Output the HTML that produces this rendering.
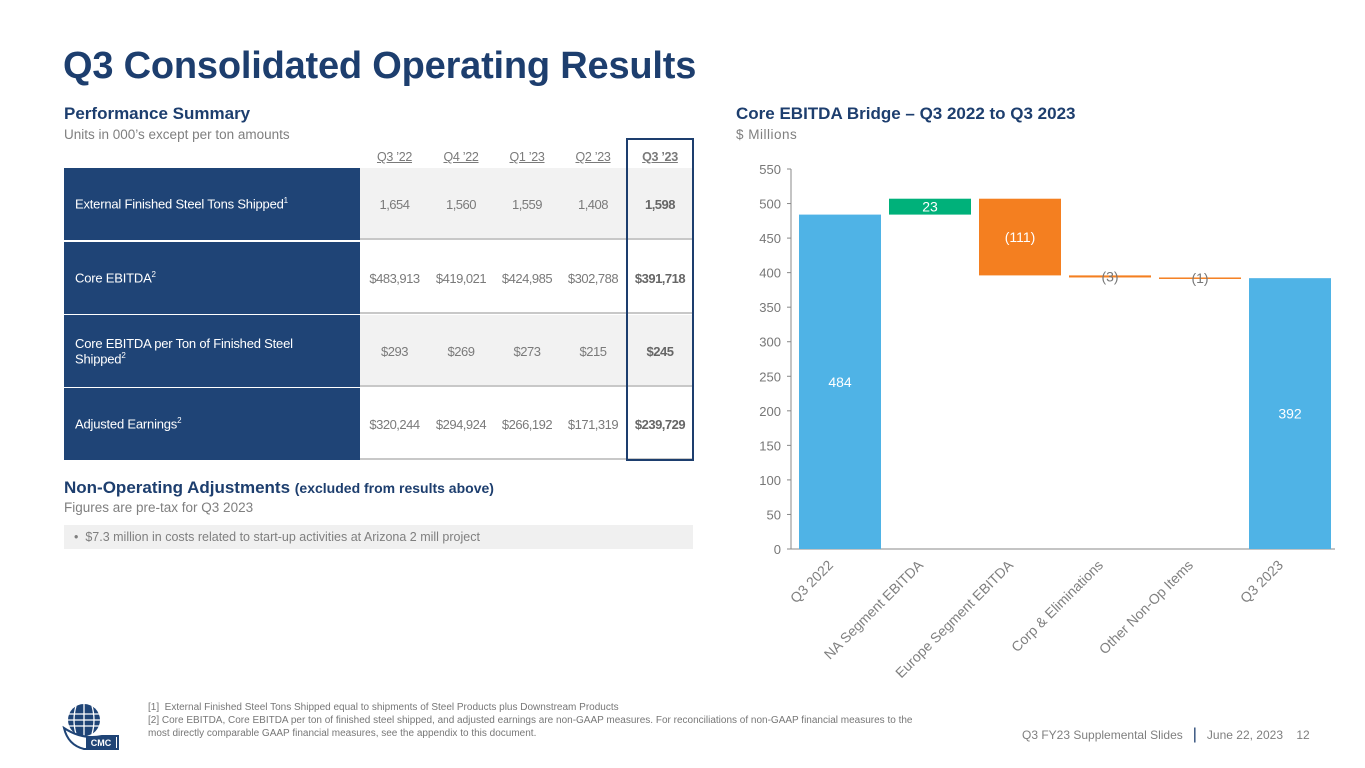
<!DOCTYPE html>
<html><head><meta charset="utf-8"><style>
*{margin:0;padding:0;box-sizing:border-box}
body{width:1365px;height:768px;background:#fff;position:relative;overflow:hidden;font-family:"Liberation Sans",sans-serif}
.a{position:absolute;white-space:nowrap}
.navy{color:#1d3e6e}
.gray{color:#7f7f7f}
.lab{position:absolute;left:64px;width:296px;background:#1f4476;color:#fff;font-size:13px;padding-left:11px;display:flex;align-items:center;letter-spacing:-0.2px}
.cell{position:absolute;font-size:13px;color:#7a7a7a;text-align:center;letter-spacing:-0.5px;display:flex;align-items:center;justify-content:center}
.hd{position:absolute;top:150px;font-size:12.5px;color:#7a7a7a;text-decoration:underline;text-align:center;letter-spacing:-0.3px}
</style></head><body>
<div class="a navy" style="left:63px;top:45px;font-size:38px;font-weight:bold;letter-spacing:-0.2px">Q3 Consolidated Operating Results</div>
<div class="a navy" style="left:64px;top:104px;font-size:17px;font-weight:bold">Performance Summary</div>
<div class="a gray" style="left:64px;top:127px;font-size:13.5px">Units in 000’s except per ton amounts</div>

<div id="tbl"></div>
<div class="a" style="left:626px;top:138px;width:68px;height:323px;border:2px solid #1d3e6e"></div>

<div class="a navy" style="left:64px;top:478px;font-size:17px;font-weight:bold">Non-Operating Adjustments <span style="font-size:14px">(excluded from results above)</span></div>
<div class="a gray" style="left:64px;top:500px;font-size:13.5px">Figures are pre-tax for Q3 2023</div>
<div class="a gray" style="left:64px;top:525px;width:629px;height:24px;background:#f0f0f0;font-size:12.5px;padding:5px 0 0 10px">• &nbsp;$7.3 million in costs related to start-up activities at Arizona 2 mill project</div>

<div class="a navy" style="left:736px;top:104px;font-size:17px;font-weight:bold">Core EBITDA Bridge – Q3 2022 to Q3 2023</div>
<div class="a gray" style="left:736px;top:127px;font-size:13.5px;letter-spacing:0.5px">$ Millions</div>

<svg class="a" style="left:0;top:0" width="1365" height="700" id="chart"></svg>

<div class="a gray" style="left:148px;top:701px;font-size:10px;line-height:13px;color:#777">[1]&nbsp; External Finished Steel Tons Shipped equal to shipments of Steel Products plus Downstream Products<br>[2] Core EBITDA, Core EBITDA per ton of finished steel shipped, and adjusted earnings are non-GAAP measures. For reconciliations of non-GAAP financial measures to the<br>most directly comparable GAAP financial measures, see the appendix to this document.</div>
<div class="a gray" style="left:1022px;top:726px;font-size:12px">Q3 FY23 Supplemental Slides &nbsp;&nbsp;<span style="color:#1d3e6e;font-size:16px">|</span>&nbsp;&nbsp; June 22, 2023 &nbsp;&nbsp; 12</div>
<svg class="a" style="left:62px;top:700px" width="60" height="52" viewBox="0 0 60 52">
<circle cx="22" cy="20" r="16" fill="#1f4476"/>
<g stroke="#fff" stroke-width="1.3" fill="none"><path d="M6 14H38M6 20H38M6 26H38M22 4V36M14 6Q10 20 14 34M30 6Q34 20 30 34"/></g>
<path d="M2 28Q20 40 40 36L56 36L56 49L22 49Q6 45 2 28Z" fill="#fff" stroke="#1f4476" stroke-width="2"/>
<rect x="24" y="37" width="30" height="11" fill="#1f4476"/>
<text x="39" y="46" font-size="9" font-weight="bold" fill="#fff" text-anchor="middle" font-family="Liberation Sans">CMC</text>
</svg>

<script>
// table
const cols=["Q3 ’22","Q4 ’22","Q1 ’23","Q2 ’23","Q3 ’23"];
const rowLabels=["External Finished Steel Tons Shipped<sup>1</sup>","Core EBITDA<sup>2</sup>","Core EBITDA per Ton of Finished Steel<br>Shipped<sup>2</sup>","Adjusted Earnings<sup>2</sup>"];
const rowVals=[["1,654","1,560","1,559","1,408","1,598"],["$483,913","$419,021","$424,985","$302,788","$391,718"],["$293","$269","$273","$215","$245"],["$320,244","$294,924","$266,192","$171,319","$239,729"]];
const colX=[361,428,494,560,627],colW=[67,66,66,66,66];
const rowY=[168,242,315,388],rowH=72;
const tbl=document.getElementById('tbl');
cols.forEach((c,i)=>{const d=document.createElement('div');d.className='hd';


d.style.left=colX[i]+'px';d.style.width=colW[i]+'px';if(i==4)d.style.fontWeight='bold';d.textContent=c;tbl.appendChild(d);});
rowLabels.forEach((l,r)=>{const d=document.createElement('div');d.className='lab';


d.style.top=rowY[r]+'px';d.style.height=rowH+'px';d.innerHTML='<span>'+l+'</span>';
d.querySelectorAll('sup').forEach(s=>{s.style.fontSize='8px'});tbl.appendChild(d);
const bg=document.createElement('div');bg.className='a';


bg.style.cssText=`left:360px;top:${rowY[r]}px;width:333px;height:${rowH}px;background:${r%2==0?'#f2f2f2':'#fff'};border-bottom:2px solid #c8c8c8`;tbl.appendChild(bg);
rowVals[r].forEach((v,i)=>{const c=document.createElement('div');c.className='cell';


c.style.cssText+=`left:${colX[i]}px;top:${rowY[r]}px;width:${colW[i]}px;height:${rowH}px;`+(i==4?'font-weight:bold;color:#666':'');c.textContent=v;tbl.appendChild(c);});
});

// chart
const cats=["Q3 2022","NA Segment EBITDA","Europe Segment EBITDA","Corp & Eliminations","Other Non-Op Items","Q3 2023"];
const deltas=[484,23,-111,-3,-1,392];
const labels=["484","23","(111)","(3)","(1)","392"];
const ticks=[0,50,100,150,200,250,300,350,400,450,500,550];
const svg=document.getElementById('chart');const NS='http://www.w3.org/2000/svg';
const y0=549,y1=169,ymax=550,x0=795,band=90,bw=82;
const Y=v=>y0-(v/ymax)*(y0-y1);const X=i=>x0+i*band+(band-bw)/2;
function el(t,a,name){const e=document.createElementNS(NS,t);for(const k in a)e.setAttribute(k,a[k]);


svg.appendChild(e);return e;}
el('line',{x1:791,y1:y1,x2:791,y2:y0,stroke:'#888','stroke-width':1},'y-axis');
el('line',{x1:791,y1:y0,x2:1335,y2:y0,stroke:'#888','stroke-width':1},'x-axis');
ticks.forEach(t=>{el('line',{x1:787,x2:791,y1:Y(t),y2:Y(t),stroke:'#888'},'y-tick');
const tx=el('text',{x:781,y:Y(t)+5,'text-anchor':'end','font-size':13,fill:'#777','font-family':'Liberation Sans'},'y-tick-label');tx.textContent=t;});
let run=0;
cats.forEach((c,i)=>{let lo,hi,col;
if(i==0||i==cats.length-1){lo=0;hi=deltas[i];col='#4fb3e6';run=deltas[i];}
else{const nr=run+deltas[i];lo=Math.min(run,nr);hi=Math.max(run,nr);col=deltas[i]>=0?'#00b17a':'#f47f20';run=nr;}
let h=Y(lo)-Y(hi);if(h<1.5)h=1.5;
el('rect',{x:X(i),y:Y(hi),width:bw,height:h,fill:col},'bar-'+c.toLowerCase().replace(/[^a-z0-9]+/g,'-'));
const small=Math.abs(Y(lo)-Y(hi))<8;
const ly=(Y(hi)+Y(lo))/2+5;
const lt=el('text',{x:X(i)+bw/2,y:ly,'text-anchor':'middle','font-size':14,fill:small?'#777':'#fff','font-family':'Liberation Sans'},'bar-value-label');lt.textContent=labels[i];
const cx=X(i)+bw/2-6;
const xl=el('text',{x:cx,y:566,'text-anchor':'end','font-size':14,fill:'#808080','font-family':'Liberation Sans',transform:`rotate(-45 ${cx} 566)`},'x-category-label');xl.textContent=c;
});
</script>
</body></html>
